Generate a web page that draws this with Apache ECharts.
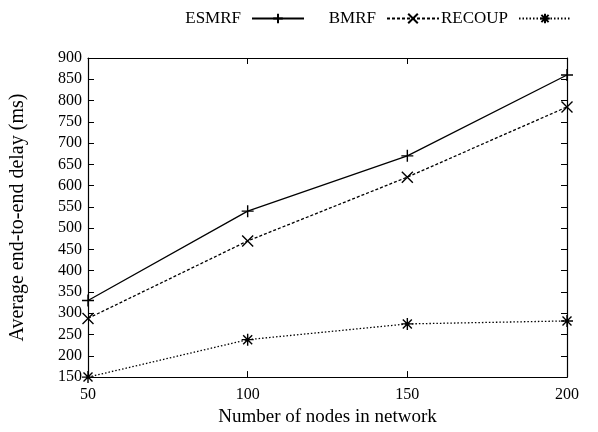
<!DOCTYPE html>
<html>
<head>
<meta charset="utf-8">
<script src="https://cdn.jsdelivr.net/npm/echarts@6/dist/echarts.min.js"></script>
<style>
  html, body { margin: 0; padding: 0; background: #fff; }
  #chart { width: 598px; height: 432px; }
</style>
</head>
<body>
<div id="chart"></div>
<script>
// data
var nodes = [50, 100, 150, 200]
var esmrf = [330, 540, 670, 860]
var bmrf = [288, 470, 620, 785]
var recoup = [150, 238, 275, 282]
var seriesNames = ['ESMRF', 'BMRF', 'RECOUP']

var plusPath = 'path://M0,-1L0,1M-1,0L1,0'
var crossPath = 'path://M-1,-1L1,1M-1,1L1,-1'
var starPath = 'path://M0,-1L0,1M-1,0L1,0M-0.75,-0.75L0.75,0.75M-0.75,0.75L0.75,-0.75'

var font = 'Liberation Serif'

function pairs(ys) {
  return nodes.map(function (x, i) { return [x, ys[i]] })
}

function makeSeries(name, ys, symbol, type, size) {
  return {
    name: name,
    type: 'line',
    data: pairs(ys),
    symbol: symbol,
    symbolSize: size,
    showAllSymbol: true,
    clip: false,
    lineStyle: { color: '#000', width: 1.3, type: type },
    itemStyle: { color: 'none', borderColor: '#000', borderWidth: 1.4 },
    emphasis: { disabled: true }
  }
}

// gnuplot style key: one legend per entry, text left of the sample
function makeLegend(name, right) {
  return {
    top: 5,
    right: right,
    align: 'right',
    itemWidth: 52,
    itemHeight: 12,
    textStyle: { fontFamily: font, fontSize: 17, color: '#000', padding: [0, 6, 0, 0] },
    data: [name]
  }
}

var chart = echarts.init(document.getElementById('chart'))
var axisText = { fontFamily: font, fontSize: 16, color: '#000' }

chart.setOption({
  animation: false,
  textStyle: { fontFamily: font },
  legend: [
    makeLegend(seriesNames[0], 288),
    makeLegend(seriesNames[1], 153),
    makeLegend(seriesNames[2], 21)
  ],
  grid: { left: 87, right: 31, top: 58, bottom: 54 },
  xAxis: [{
    type: 'value',
    min: 50, max: 200, interval: 50,
    name: 'Number of nodes in network',
    nameLocation: 'middle',
    nameGap: 23,
    nameTextStyle: { fontFamily: font, fontSize: 19, color: '#000' },
    axisLine: { lineStyle: { color: '#000', width: 1.2 } },
    axisTick: { inside: true, length: 6, lineStyle: { color: '#000' } },
    axisLabel: Object.assign({ margin: 10 }, axisText),
    splitLine: { show: false }
  }, {
    type: 'value',
    position: 'top',
    min: 50, max: 200, interval: 50,
    axisLine: { lineStyle: { color: '#000', width: 1.2 } },
    axisTick: { inside: true, length: 6, lineStyle: { color: '#000' } },
    axisLabel: { show: false },
    splitLine: { show: false }
  }],
  yAxis: [{
    type: 'value',
    min: 150, max: 900, interval: 50,
    name: 'Average end-to-end delay (ms)',
    nameLocation: 'middle',
    nameGap: 60,
    nameTextStyle: { fontFamily: font, fontSize: 20, color: '#000' },
    axisLine: { show: true, lineStyle: { color: '#000', width: 1.2 } },
    axisTick: { show: true, inside: true, length: 6, lineStyle: { color: '#000' } },
    axisLabel: Object.assign({ margin: 6 }, axisText),
    splitLine: { show: false }
  }, {
    type: 'value',
    position: 'right',
    min: 150, max: 900, interval: 50,
    axisLine: { show: true, lineStyle: { color: '#000', width: 1.2 } },
    axisTick: { show: true, inside: true, length: 6, lineStyle: { color: '#000' } },
    axisLabel: { show: false },
    splitLine: { show: false }
  }],
  series: [
    makeSeries(seriesNames[0], esmrf, plusPath, 'solid', 12),
    makeSeries(seriesNames[1], bmrf, crossPath, [3, 2], 11),
    makeSeries(seriesNames[2], recoup, starPath, [1.5, 2], 12)
  ]
})
</script>
</body>
</html>
